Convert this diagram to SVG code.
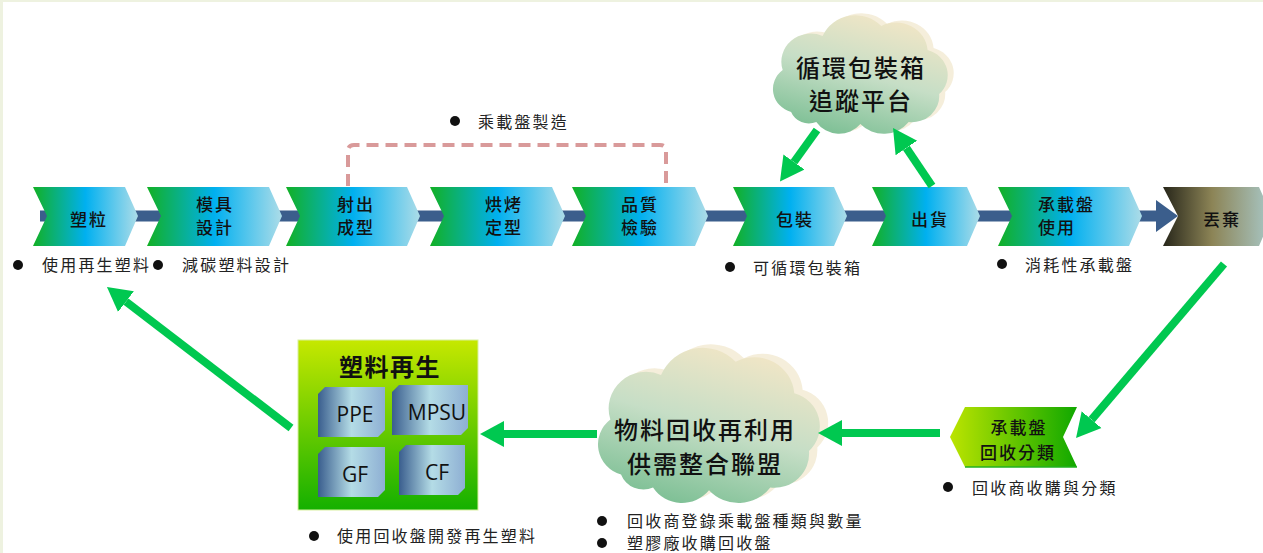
<svg xmlns="http://www.w3.org/2000/svg" xmlns:xlink="http://www.w3.org/1999/xlink" width="1263" height="553" viewBox="0 0 1263 553">
<style>
.cjk{font-family:'Noto Sans CJK TC','Noto Sans CJK SC',sans-serif;}
.ct{font-family:'Noto Sans CJK TC','Noto Sans CJK SC',sans-serif;font-size:17px;font-weight:500;fill:#111;letter-spacing:2px;dominant-baseline:central;}
.bl{font-family:'Noto Sans CJK TC','Noto Sans CJK SC',sans-serif;font-size:16px;fill:#222;letter-spacing:2.2px;dominant-baseline:central;}
.cl{font-family:'Noto Sans CJK TC','Noto Sans CJK SC',sans-serif;font-size:24px;font-weight:500;fill:#111;letter-spacing:2px;dominant-baseline:central;text-anchor:middle;}
.tl{font-family:'Open Sans','Liberation Sans',sans-serif;font-size:21px;fill:#111;text-anchor:middle;dominant-baseline:central;}
.chev{fill:url(#gChev);}
.tile{fill:url(#gTile);}
.ga{stroke:#00C850;stroke-width:8;fill:none;marker-end:url(#ah);}
.dot{fill:#111;}
</style>
<defs>
<linearGradient id="gChev" x1="0" y1="0" x2="1" y2="0">
<stop offset="0" stop-color="#12B024"/>
<stop offset="0.5" stop-color="#00B0F0"/>
<stop offset="1" stop-color="#ACDCE8"/>
</linearGradient>
<linearGradient id="gDrop" x1="0" y1="0" x2="1" y2="0">
<stop offset="0" stop-color="#27261A"/>
<stop offset="0.45" stop-color="#8C8456"/>
<stop offset="1" stop-color="#A9C9C9"/>
</linearGradient>
<linearGradient id="gRec" x1="0" y1="0" x2="1" y2="0">
<stop offset="0" stop-color="#BCE400"/>
<stop offset="1" stop-color="#10A800"/>
</linearGradient>
<linearGradient id="gBox" x1="0" y1="0" x2="0" y2="1">
<stop offset="0" stop-color="#C6E800"/>
<stop offset="1" stop-color="#14B000"/>
</linearGradient>
<linearGradient id="gTile" x1="0" y1="0" x2="1" y2="0">
<stop offset="0" stop-color="#3A5E8E"/>
<stop offset="0.5" stop-color="#B4DCE6"/>
<stop offset="1" stop-color="#8EAFD3"/>
</linearGradient>
<linearGradient id="gCloud" x1="0.7" y1="0" x2="0.3" y2="1">
<stop offset="0" stop-color="#F3E6C6"/>
<stop offset="0.5" stop-color="#C6DEC6"/>
<stop offset="1" stop-color="#7CBF94"/>
</linearGradient>
<path id="cloud" d="M22,100 A24,24 0 0 1 14,58 A28,28 0 0 1 52,24 A34,34 0 0 1 108,14 A30,30 0 0 1 152,38 A26,26 0 0 1 163,82 A26,26 0 0 1 134,110 A30,30 0 0 1 88,112 A26,26 0 0 1 46,110 A18,18 0 0 1 22,100 Z"/>
<marker id="ah" markerUnits="userSpaceOnUse" markerWidth="30" markerHeight="30" viewBox="0 -15 30 30" refX="0" refY="0" orient="auto">
<path d="M0,-13 L24,0 L0,13 Z" fill="#00C850"/>
</marker>
</defs>

<rect x="0" y="0" width="1263" height="553" fill="#EEF2E0"/>
<rect x="3" y="2" width="1260" height="551" fill="#FFFFFF"/>

<g id="flow-bar">
<rect x="40" y="210.5" width="1120" height="11" fill="#3B5E8C"/>
<path d="M1156,200 L1178,216 L1156,232 Z" fill="#3B5E8C"/>
</g>

<g id="bracket">
<path d="M348,186 L348,151 Q348,145 354,145 L660,145 Q666,145 666,151 L666,186" fill="none" stroke="#D99A9A" stroke-width="4" stroke-dasharray="12 7"/>
<circle class="dot" cx="455" cy="121" r="5"/>
<text class="bl" x="478" y="121">乘載盤製造</text>
</g>

<g id="n-pellet">
<path class="chev" d="M33,187 L125,187 L138,216 L125,246 L33,246 L47,216 Z"/>
<text class="ct" x="89" y="218" text-anchor="middle">塑粒</text>
</g>
<g id="n-mold">
<path class="chev" d="M147,187 L269,187 L282,216 L269,246 L147,246 L161,216 Z"/>
<text class="ct" x="215" y="203" text-anchor="middle">模具</text>
<text class="ct" x="215" y="226" text-anchor="middle">設計</text>
</g>
<g id="n-inject">
<path class="chev" d="M286,187 L407,187 L420,216 L407,246 L286,246 L300,216 Z"/>
<text class="ct" x="356" y="203" text-anchor="middle">射出</text>
<text class="ct" x="356" y="226" text-anchor="middle">成型</text>
</g>
<g id="n-bake">
<path class="chev" d="M430,187 L552,187 L565,216 L552,246 L430,246 L444,216 Z"/>
<text class="ct" x="504" y="203" text-anchor="middle">烘烤</text>
<text class="ct" x="504" y="226" text-anchor="middle">定型</text>
</g>
<g id="n-qc">
<path class="chev" d="M572,187 L695,187 L708,216 L695,246 L572,246 L586,216 Z"/>
<text class="ct" x="640" y="203" text-anchor="middle">品質</text>
<text class="ct" x="640" y="226" text-anchor="middle">檢驗</text>
</g>
<g id="n-pack">
<path class="chev" d="M733,187 L834,187 L847,216 L834,246 L733,246 L747,216 Z"/>
<text class="ct" x="795" y="218" text-anchor="middle">包裝</text>
</g>
<g id="n-ship">
<path class="chev" d="M872,187 L967,187 L980,216 L967,246 L872,246 L886,216 Z"/>
<text class="ct" x="930" y="218" text-anchor="middle">出貨</text>
</g>
<g id="n-use">
<path class="chev" d="M998,187 L1129,187 L1142,216 L1129,246 L998,246 L1012,216 Z"/>
<text class="ct" x="1038" y="203">承載盤</text>
<text class="ct" x="1038" y="226">使用</text>
</g>
<g id="n-discard">
<path d="M1163,187 L1259,187 L1272,216 L1259,246 L1163,246 L1178,216 Z" fill="url(#gDrop)"/>
<text class="ct" x="1222" y="218" text-anchor="middle">丟棄</text>
</g>

<g id="n-recycle-sort">
<path d="M965,407 L1077,407 L1063,437 L1077,467 L965,467 L950,437 Z" fill="url(#gRec)"/>
<line x1="965" y1="467" x2="1077" y2="467" stroke="#22B020" stroke-width="1.5"/>
<text class="ct" x="1019" y="426" text-anchor="middle">承載盤</text>
<text class="ct" x="1018" y="451" text-anchor="middle">回收分類</text>
</g>

<g id="n-track-cloud">
<use xlink:href="#cloud" transform="translate(774,10) scale(1.05,1)" fill="#F3EAD2" opacity="0.8"/>
<use xlink:href="#cloud" transform="translate(768,12) scale(1.05,1)" fill="url(#gCloud)"/>
<text class="cl" x="861" y="66">循環包裝箱</text>
<text class="cl" x="861" y="99">追蹤平台</text>
</g>

<g id="n-alliance-cloud">
<use xlink:href="#cloud" transform="translate(600,340) scale(1.333,1.31)" fill="#F3EAD2" opacity="0.8"/>
<use xlink:href="#cloud" transform="translate(591.7,343.5) scale(1.333,1.31)" fill="url(#gCloud)"/>
<text class="cl" x="705" y="428">物料回收再利用</text>
<text class="cl" x="705" y="462">供需整合聯盟</text>
</g>

<g id="n-regen">
<rect x="298" y="340" width="180" height="170" fill="url(#gBox)" stroke="#D8F0A0" stroke-width="1"/>
<text class="cjk" x="390" y="365" font-size="24" font-weight="bold" fill="#111" text-anchor="middle" dominant-baseline="central" letter-spacing="1.5">塑料再生</text>
<path class="tile" d="M325,387 L385,387 L385,430 L378,437 L318,437 L318,394 Z"/>
<path class="tile" d="M399,385 L468,385 L468,428 L461,435 L392,435 L392,392 Z"/>
<path class="tile" d="M325,447 L385,447 L385,490 L378,497 L318,497 L318,454 Z"/>
<path class="tile" d="M406,445 L465,445 L465,488 L458,495 L399,495 L399,452 Z"/>
<text class="tl" x="355" y="414">PPE</text>
<text class="tl" x="437" y="412">MPSU</text>
<text class="tl" x="355" y="474">GF</text>
<text class="tl" x="437" y="472">CF</text>
</g>

<g id="connectors">
<line class="ga" x1="817" y1="130" x2="794" y2="162"/>
<line class="ga" x1="932" y1="186" x2="906.4" y2="147.9"/>
<line class="ga" x1="1224" y1="264" x2="1091.6" y2="419.7"/>
<line class="ga" x1="940" y1="433" x2="842" y2="433"/>
<line class="ga" x1="597" y1="434" x2="504" y2="434"/>
<line class="ga" x1="291" y1="428" x2="126" y2="301.6"/>
</g>

<g id="labels">
<circle class="dot" cx="18" cy="265" r="5"/>
<text class="bl" x="42" y="264">使用再生塑料</text>
<circle class="dot" cx="158" cy="265" r="5"/>
<text class="bl" x="182" y="264">減碳塑料設計</text>
<circle class="dot" cx="730" cy="267" r="5"/>
<text class="bl" x="753" y="267">可循環包裝箱</text>
<circle class="dot" cx="1002" cy="264" r="5"/>
<text class="bl" x="1025" y="264">消耗性承載盤</text>
<circle class="dot" cx="948" cy="487" r="5"/>
<text class="bl" x="972" y="487">回收商收購與分類</text>
<circle class="dot" cx="314" cy="536" r="5"/>
<text class="bl" x="337" y="535">使用回收盤開發再生塑料</text>
<circle class="dot" cx="602" cy="521" r="5"/>
<text class="bl" x="627" y="520">回收商登錄乘載盤種類與數量</text>
<circle class="dot" cx="602" cy="543" r="5"/>
<text class="bl" x="627" y="542">塑膠廠收購回收盤</text>
</g>
</svg>
